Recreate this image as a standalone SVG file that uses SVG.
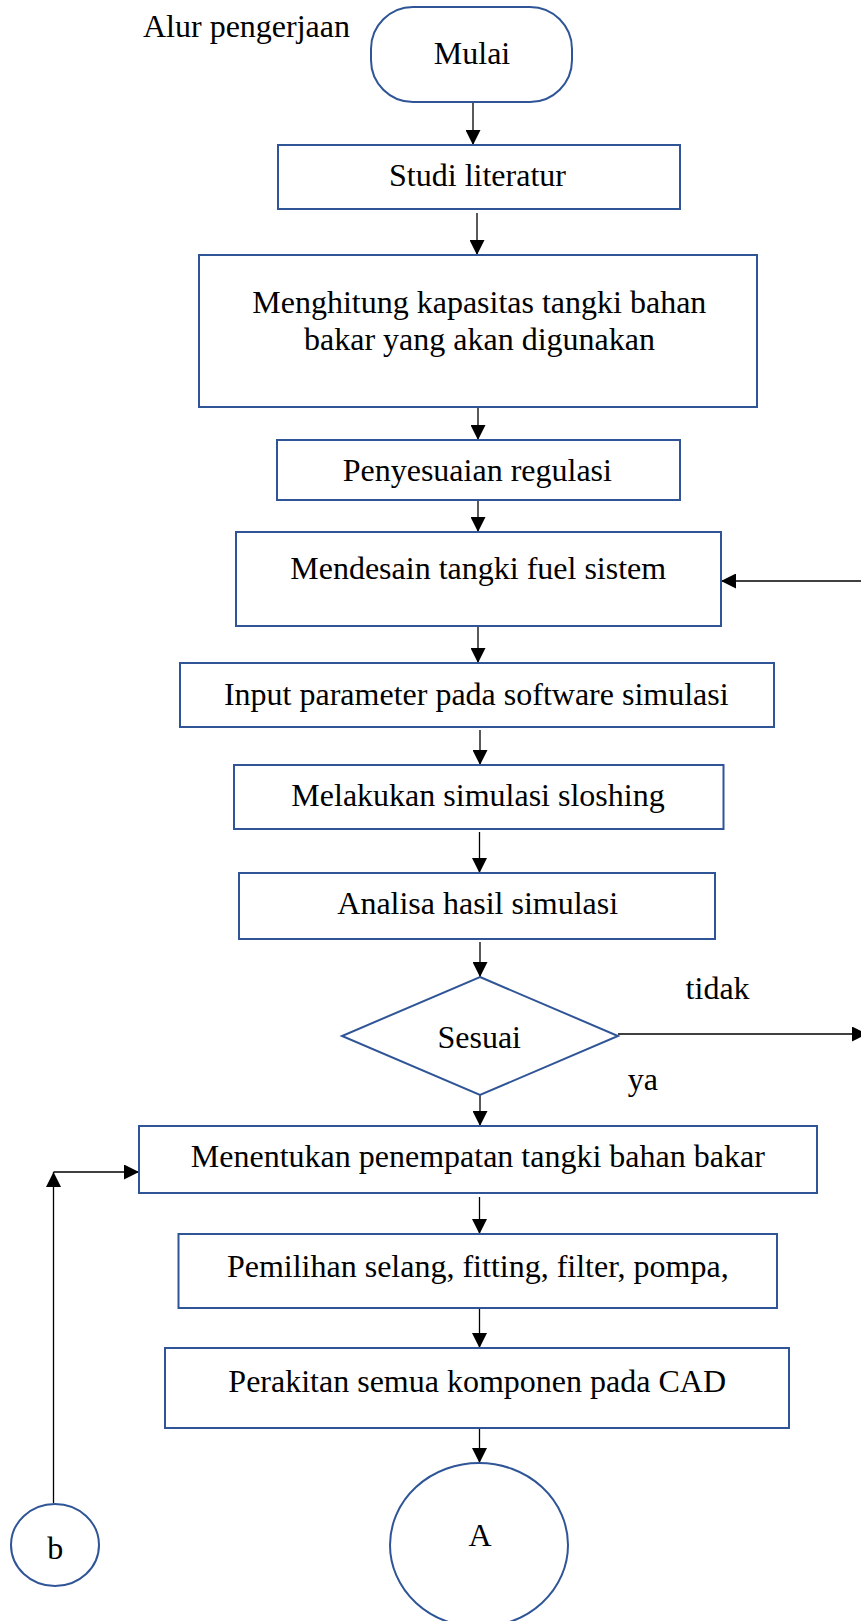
<svg xmlns="http://www.w3.org/2000/svg" width="861" height="1621" viewBox="0 0 861 1621">
<style>
.n{fill:#fff;stroke:#2f5597;stroke-width:2}
.t{font-family:"Liberation Serif","Times New Roman",serif;font-size:32px;fill:#000;text-anchor:middle}
.ts{font-family:"Liberation Serif","Times New Roman",serif;font-size:32px;fill:#000}
.c{stroke:#000;stroke-width:1.3;fill:none;marker-end:url(#ah)}
</style>
<defs>
<marker id="ah" markerUnits="userSpaceOnUse" markerWidth="15" markerHeight="15" refX="15" refY="7.5" orient="auto">
<path d="M0,0 L15,7.5 L0,15 z" fill="#000"/>
</marker>
</defs>
<rect width="861" height="1621" fill="#fff"/>
<text class="ts" x="143" y="37">Alur pengerjaan</text>
<g id="connectors">
<line class="c" x1="473" y1="102" x2="473" y2="145"/>
<line class="c" x1="477" y1="213" x2="477" y2="255"/>
<line class="c" x1="478" y1="408" x2="478" y2="440"/>
<line class="c" x1="478" y1="501" x2="478" y2="532"/>
<line class="c" x1="478" y1="627" x2="478" y2="663"/>
<line class="c" x1="480" y1="730" x2="480" y2="765"/>
<line class="c" x1="479.5" y1="832" x2="479.5" y2="873"/>
<line class="c" x1="480" y1="942" x2="480" y2="977"/>
<line class="c" x1="480" y1="1095" x2="480" y2="1126"/>
<line class="c" x1="479.5" y1="1197" x2="479.5" y2="1234"/>
<line class="c" x1="479.5" y1="1309" x2="479.5" y2="1348"/>
<line class="c" x1="479.5" y1="1429" x2="479.5" y2="1463"/>
<line class="c" x1="618" y1="1034" x2="867" y2="1034"/>
<line class="c" x1="862" y1="581" x2="721" y2="581"/>
<line class="c" x1="53.5" y1="1503" x2="53.5" y2="1172"/>
<line class="c" x1="53.5" y1="1172" x2="139" y2="1172"/>
</g>
<g id="mulai"><rect class="n" x="371" y="7" width="201" height="95" rx="42" ry="42"/><text class="t" x="472" y="64">Mulai</text></g>
<g id="studi"><rect class="n" x="278" y="145" width="402" height="64"/><text class="t" x="477.5" y="186">Studi literatur</text></g>
<g id="menghitung"><rect class="n" x="199" y="255" width="558" height="152"/><text class="t" x="479.3" y="312.7">Menghitung kapasitas tangki bahan</text><text class="t" x="479.5" y="350">bakar yang akan digunakan</text></g>
<g id="penyesuaian"><rect class="n" x="277" y="440" width="403" height="60"/><text class="t" x="477.3" y="480.7">Penyesuaian regulasi</text></g>
<g id="mendesain"><rect class="n" x="236" y="532" width="485" height="94"/><text class="t" x="478.2" y="579.3">Mendesain tangki fuel sistem</text></g>
<g id="input"><rect class="n" x="180" y="663" width="594" height="64"/><text class="t" x="476.3" y="705">Input parameter pada software simulasi</text></g>
<g id="melakukan"><rect class="n" x="234" y="765" width="489.5" height="64"/><text class="t" x="478" y="805.7">Melakukan simulasi sloshing</text></g>
<g id="analisa"><rect class="n" x="239" y="873" width="476" height="66"/><text class="t" x="477.7" y="914">Analisa hasil simulasi</text></g>
<g id="sesuai"><polygon class="n" points="480,977 618,1036 480,1095 342,1036"/><text class="t" x="479.2" y="1048.3">Sesuai</text></g>
<text class="ts" x="685.6" y="999.3">tidak</text>
<text class="ts" x="627.7" y="1090">ya</text>
<g id="menentukan"><rect class="n" x="139" y="1126" width="678" height="67"/><text class="t" x="477.8" y="1166.7">Menentukan penempatan tangki bahan bakar</text></g>
<g id="pemilihan"><rect class="n" x="178.5" y="1234" width="598.5" height="74"/><text class="t" x="477.8" y="1276.7">Pemilihan selang, fitting, filter, pompa,</text></g>
<g id="perakitan"><rect class="n" x="165" y="1348" width="624" height="80"/><text class="t" x="477.2" y="1391.7">Perakitan semua komponen pada CAD</text></g>
<g id="a"><ellipse class="n" cx="479" cy="1545" rx="89" ry="82"/><text class="t" x="480" y="1546">A</text></g>
<g id="b"><ellipse class="n" cx="55" cy="1545" rx="44" ry="41"/><text class="t" x="55.2" y="1559.3">b</text></g>
</svg>
